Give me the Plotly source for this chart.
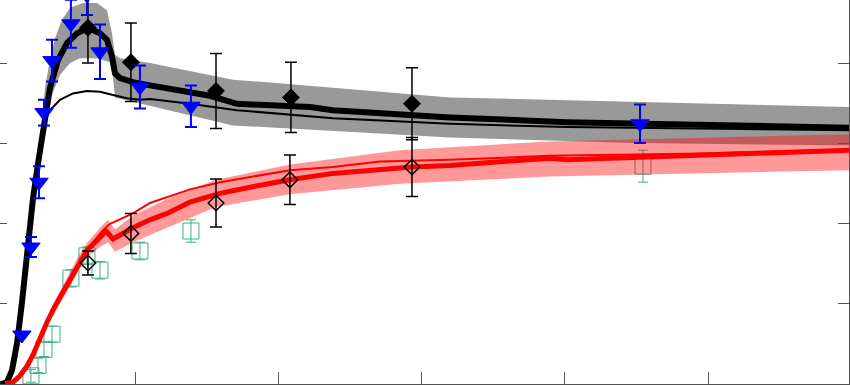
import plotly.graph_objects as go

# ---- model curves ----
blk_thick_x = [0.56, 1.05, 1.40, 1.75, 2.09, 2.37, 2.58, 2.86, 3.21, 3.56, 4.05, 4.61, 5.24, 5.93, 6.70, 7.54,
               8.03, 8.38, 8.59, 8.94, 9.84, 11.03, 13.12, 15.22, 17.10, 18.92, 22.20, 23.80, 28.48, 31.97,
               40.14, 49.42, 59.90]
blk_thick_y = [-0.02, 0.01, 0.16, 0.50, 1.00, 1.51, 1.91, 2.30, 2.74, 3.16, 3.69, 4.04, 4.25, 4.37, 4.44, 4.37,
               4.29, 4.08, 3.87, 3.81, 3.76, 3.72, 3.66, 3.59, 3.49, 3.48, 3.45, 3.41, 3.36, 3.32,
               3.26, 3.22, 3.19]

blk_thin_x = [0.56, 1.05, 1.40, 1.75, 2.09, 2.37, 2.58, 2.86, 3.21, 3.42, 3.77, 4.05, 4.75, 5.65, 6.63, 7.54,
              8.45, 9.42, 10.33, 11.03, 13.82, 17.10, 23.80, 28.48, 31.97, 40.14, 59.90]
blk_thin_y = [-0.02, 0.01, 0.16, 0.50, 1.00, 1.51, 1.91, 2.30, 2.74, 3.06, 3.31, 3.41, 3.54, 3.62, 3.65, 3.64,
              3.60, 3.56, 3.54, 3.55, 3.49, 3.41, 3.31, 3.27, 3.24, 3.20, 3.16]

gray_up_x = [3.35, 3.70, 4.05, 4.40, 4.89, 5.45, 6.35, 7.33, 8.03, 8.38, 8.59, 8.94, 11.03, 16.82, 19.20, 31.97, 59.90]
gray_up_y = [3.04, 3.69, 4.04, 4.31, 4.54, 4.69, 4.75, 4.75, 4.66, 4.37, 4.10, 4.06, 4.00, 3.79, 3.76, 3.57, 3.45]
gray_lo_x = [3.35, 3.70, 4.05, 4.75, 5.45, 6.14, 7.33, 8.24, 8.45, 8.59, 9.15, 16.82, 31.97, 44.75, 59.90]
gray_lo_y = [2.85, 3.22, 3.54, 3.85, 4.00, 4.06, 4.06, 4.01, 3.82, 3.57, 3.54, 3.22, 3.07, 3.00, 2.97]

red_thick_x = [0.91, 1.47, 1.95, 2.44, 2.86, 3.35, 3.84, 4.40, 4.75, 5.24, 5.93, 6.63, 7.54, 7.96, 8.45, 8.94,
               9.84, 11.03, 12.22, 13.82, 15.92, 18.36, 20.80, 23.80, 27.09, 29.32, 31.97, 35.46, 38.95,
               40.14, 49.42, 59.90]
red_thick_y = [-0.01, 0.01, 0.09, 0.21, 0.35, 0.56, 0.76, 0.96, 1.07, 1.25, 1.46, 1.66, 1.82, 1.90, 1.80, 1.85,
               1.94, 2.04, 2.12, 2.26, 2.37, 2.46, 2.54, 2.62, 2.67, 2.70, 2.72, 2.76, 2.81,
               2.79, 2.85, 2.91]

red_thin_x = [0.91, 1.47, 1.95, 2.44, 2.86, 3.35, 3.84, 4.40, 4.75, 5.24, 5.93, 6.63, 7.19, 7.75, 8.24, 8.94,
              9.84, 11.03, 12.22, 13.82, 15.92, 20.80, 23.80, 27.09, 31.97, 38.95, 49.42, 59.90]
red_thin_y = [-0.01, 0.01, 0.09, 0.21, 0.35, 0.56, 0.76, 0.96, 1.07, 1.25, 1.46, 1.66, 1.79, 1.91, 1.99, 2.05,
              2.12, 2.25, 2.32, 2.42, 2.51, 2.66, 2.70, 2.77, 2.79, 2.84, 2.87, 2.92]

red_up_x = [3.35, 4.05, 4.75, 5.93, 6.63, 7.54, 8.10, 8.59, 9.84, 12.22, 15.64, 20.80, 28.48, 38.95, 59.90]
red_up_y = [0.56, 0.91, 1.15, 1.55, 1.75, 1.94, 2.04, 1.92, 2.09, 2.30, 2.54, 2.73, 2.91, 3.02, 3.11]
red_lo_x = [3.35, 4.05, 4.75, 5.93, 6.63, 7.54, 8.10, 8.59, 9.84, 12.22, 15.64, 20.80, 28.48, 38.95, 59.90]
red_lo_y = [0.56, 0.79, 1.00, 1.37, 1.57, 1.70, 1.76, 1.64, 1.76, 1.94, 2.20, 2.36, 2.49, 2.58, 2.66]

# ---- measured data ----
tri_x = [2.09, 2.72, 3.28, 3.63, 4.19, 5.51, 6.63, 7.54, 10.33, 13.89, 45.24]
tri_y = [0.60, 1.70, 2.51, 3.38, 4.03, 4.49, 4.85, 4.14, 3.70, 3.46, 3.24]
tri_e = [0.00, 0.125, 0.20, 0.16, 0.26, 0.30, 0.25, 0.34, 0.27, 0.26, 0.24]

dia_x = [6.70, 9.70, 15.64, 20.87, 29.32]
dia_y = [4.44, 4.01, 3.65, 3.57, 3.49]
dia_e = [0.44, 0.49, 0.47, 0.44, 0.45]

odia_x = [6.70, 9.70, 15.64, 20.80, 29.32]
odia_y = [1.50, 1.87, 2.25, 2.54, 2.70]
odia_e = [0.15, 0.25, 0.30, 0.31, 0.37]

sq_x = [2.72, 3.21, 3.63, 4.19, 5.51, 6.63, 7.54, 10.33, 13.89, 45.45]
sq_y = [0.09, 0.22, 0.42, 0.61, 1.31, 1.59, 1.41, 1.65, 1.90, 2.71]
sq_e = [0.08, 0.09, 0.09, 0.10, 0.11, 0.11, 0.11, 0.11, 0.14, 0.20]

x_ticks = [10, 20, 30, 40, 50]
y_ticks = [1, 2, 3, 4]

TEAL = '#3DAE8C'
AX = '#555555'

fig = go.Figure()

# teal squares (beneath bands)
fig.add_trace(go.Scatter(x=sq_x, y=sq_y, mode='markers',
                         marker=dict(symbol='square-open', size=16, color=TEAL, line=dict(width=1, color=TEAL)),
                         error_y=dict(type='data', array=sq_e, color=TEAL, thickness=1, width=5)))

# bands
fig.add_trace(go.Scatter(x=gray_up_x + gray_lo_x[::-1], y=gray_up_y + gray_lo_y[::-1],
                         fill='toself', fillcolor='rgba(0,0,0,0.4)', line=dict(width=0), mode='lines'))
fig.add_trace(go.Scatter(x=red_up_x + red_lo_x[::-1], y=red_up_y + red_lo_y[::-1],
                         fill='toself', fillcolor='rgba(255,0,0,0.4)', line=dict(width=0), mode='lines'))

# lines
fig.add_trace(go.Scatter(x=blk_thin_x, y=blk_thin_y, mode='lines', line=dict(color='black', width=2)))
fig.add_trace(go.Scatter(x=blk_thick_x, y=blk_thick_y, mode='lines', line=dict(color='black', width=6)))
fig.add_trace(go.Scatter(x=red_thin_x, y=red_thin_y, mode='lines', line=dict(color='#FF0000', width=2)))
fig.add_trace(go.Scatter(x=red_thick_x, y=red_thick_y, mode='lines', line=dict(color='#FF0000', width=5)))

# markers
fig.add_trace(go.Scatter(x=odia_x, y=odia_y, mode='markers',
                         marker=dict(symbol='diamond-open', size=12, color='black', line=dict(width=1.5, color='black')),
                         error_y=dict(type='data', array=odia_e, color='black', thickness=1.5, width=6)))
fig.add_trace(go.Scatter(x=dia_x, y=dia_y, mode='markers',
                         marker=dict(symbol='diamond', size=13, color='black', line=dict(width=1, color='black')),
                         error_y=dict(type='data', array=dia_e, color='black', thickness=1.5, width=6)))
fig.add_trace(go.Scatter(x=tri_x, y=tri_y, mode='markers',
                         marker=dict(symbol='triangle-down', size=16, color='#0000FF', line=dict(width=1, color='#0000FF')),
                         error_y=dict(type='data', array=tri_e, color='#0000FF', thickness=2, width=6)))

# dummy for right axis
fig.add_trace(go.Scatter(x=[None], y=[None], yaxis='y2', mode='markers', hoverinfo='skip'))

yr = [-0.0125, 4.7875]
fig.update_layout(
    width=850, height=386,
    margin=dict(l=0, r=1, t=0, b=2),
    plot_bgcolor='white', paper_bgcolor='white',
    showlegend=False,
    xaxis=dict(range=[0.56, 59.83], showline=True, linecolor=AX, linewidth=1, ticks='inside', ticklen=12,
               tickcolor=AX, tickvals=x_ticks, showticklabels=False, showgrid=False, zeroline=False),
    yaxis=dict(range=yr, showline=False, ticks='inside', ticklen=7, tickcolor=AX, tickvals=y_ticks,
               showticklabels=False, showgrid=False, zeroline=False),
    yaxis2=dict(range=yr, overlaying='y', side='right', showline=True, linecolor=AX, linewidth=1,
                ticks='inside', ticklen=11, tickcolor=AX, tickvals=[0] + y_ticks,
                showticklabels=False, showgrid=False, zeroline=False),
)

fig.write_html("out.html", config={'displayModeBar': False},
               post_script="document.body.style.margin='0';document.body.style.overflow='hidden';")
